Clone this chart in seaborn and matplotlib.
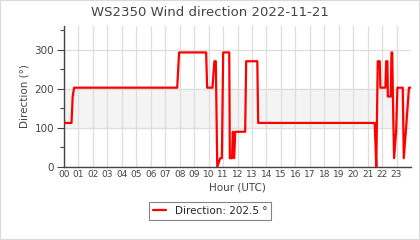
import matplotlib
matplotlib.use("Agg")
import matplotlib.pyplot as plt
import seaborn as sns
import pandas as pd
from matplotlib.ticker import FixedLocator
from matplotlib.patches import Rectangle

title = "WS2350 Wind direction 2022-11-21"
series_name = "Direction: 202.5 °"
hour_labels = [f"{h:02d}" for h in range(24)]

hours = [0.0, 0.52, 0.6, 0.7, 7.83, 7.96, 9.83, 9.9, 10.27, 10.4, 10.5, 10.6,
         10.8, 10.92, 11.01, 11.43, 11.47, 11.62, 11.68, 11.77, 11.84, 12.53,
         12.6, 13.37, 13.43, 21.49, 21.6, 21.7, 21.84, 21.88, 22.23, 22.28,
         22.37, 22.4, 22.6, 22.65, 22.7, 22.78, 22.83, 22.97, 23.06, 23.43,
         23.5, 23.64, 23.86, 24.0]
direction = [112.5, 112.5, 180, 202.5, 202.5, 292.5, 292.5, 202.5, 202.5, 270, 270, 0,
             22.5, 22.5, 292.5, 292.5, 22.5, 22.5, 90, 22.5, 90, 90,
             270, 270, 112.5, 112.5, 0, 270, 270, 202.5, 202.5, 270,
             270, 180, 180, 292.5, 292.5, 112.5, 22.5, 90, 202.5, 202.5,
             22.5, 90, 202.5, 202.5]

df = pd.DataFrame({"hour": hours, "dir": direction})

sns.set_style("white")
plt.rcParams['font.family'] = ['DejaVu Sans']

fig = plt.figure(figsize=(4.2, 2.4), dpi=100)
ax = fig.add_axes([64/420, 1-167/240, (411-64)/420, (167-26)/240])

ax.axhspan(100, 200, color="#f4f4f4", zorder=0)
sns.lineplot(data=df, x="hour", y="dir", ax=ax, color="#ff0000", linewidth=1.6,
             estimator=None, sort=False, label=series_name, zorder=3)

ax.set_xlim(0, 24)
ax.set_ylim(0, 360)
ax.xaxis.set_major_locator(FixedLocator(range(24)))
ax.set_xticklabels(hour_labels)
ax.yaxis.set_major_locator(FixedLocator([0, 100, 200, 300]))
ax.yaxis.set_minor_locator(FixedLocator([50, 150, 250, 350]))
ax.grid(True, axis="both", which="major", color="#dddddd", linewidth=0.9, zorder=1)
ax.set_axisbelow(True)

for s in ["top", "right"]:
    ax.spines[s].set_visible(False)
for s in ["left", "bottom"]:
    ax.spines[s].set_color("#444444")
    ax.spines[s].set_linewidth(1.0)

ax.tick_params(axis="x", which="both", length=0, labelsize=6.5, labelcolor="#444444", pad=2)
ax.tick_params(axis="y", which="major", length=5, width=0.8, color="#444444",
               labelsize=7.5, labelcolor="#444444", left=True, pad=2)
ax.tick_params(axis="y", which="minor", length=3, width=0.8, color="#444444", left=True)

ax.set_xlabel("Hour (UTC)", fontsize=7.5, color="#444444", labelpad=3)
ax.set_ylabel("Direction (°)", fontsize=7.5, color="#444444", labelpad=4)

fig.text(0.5, 1-12/240, title, ha="center", va="center", fontsize=9.5, color="#444444")

ax.legend_.remove()
leg = fig.legend(loc="center", bbox_to_anchor=(0.5, 1-211/240), fontsize=7.5,
                 frameon=True, fancybox=False, edgecolor="#666666", handlelength=1.3,
                 borderpad=0.4, borderaxespad=0)
leg.get_frame().set_linewidth(0.8)

fig.patches.append(Rectangle((0, 0), 1, 1, transform=fig.transFigure, fill=False,
                             edgecolor="#d9d9d9", linewidth=1.5))

fig.savefig("out.png", dpi=100)
